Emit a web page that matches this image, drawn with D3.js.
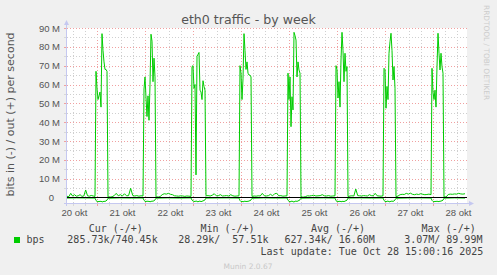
<!DOCTYPE html>
<html>
<head>
<meta charset="utf-8">
<script src="https://cdn.jsdelivr.net/npm/d3@7"></script>
<style>
  body { margin: 0; background: #f0f0f0; }
  svg { display: block; font-family: "DejaVu Sans", sans-serif; }
  .lbl text { fill: #555; font-size: 9.5px; }
  .lbl path, .lbl line { display: none; }
  .mono { font-family: "DejaVu Sans Mono", monospace; font-size: 10px; fill: #444; white-space: pre; }
</style>
</head>
<body>
<svg id="chart"></svg>
<script>
const width = 497;
const height = 275;
const plot = { left: 67, right: 467, top: 28, bottom: 203 };

// time window of the graph (30 min per pixel)
const timeStart  = "2025-10-20T08:30";
const timeEnd    = "2025-10-28T16:30";
const lastSample = "2025-10-28T15:30";
const yDomain = [-2.92, 90]; // Mbit/s

// nightly bursts, one sample per 30 min, starting 23:00 (Mbit/s)
const burstStart = [
  "2025-10-20T23:00", "2025-10-21T23:00", "2025-10-22T23:00", "2025-10-23T23:00",
  "2025-10-24T23:00", "2025-10-25T23:00", "2025-10-26T23:00", "2025-10-27T23:00"
];
const burstOut = [
  [67, 58, 52, 54, 56, 48, 87, 78, 72, 68, 68, 67],
  [57.6, 64, 53, 43, 54, 41, 60, 86.7, 83, 61.5, 74, 64],
  [69.5, 70, 58, 60, 12, 75, 76, 77, 57, 56, 52, 62, 59, 57],
  [70, 66, 52, 63, 87, 78, 68, 72, 66, 65, 65, 64],
  [66, 52, 64, 37.6, 53.5, 46.5, 87.7, 86, 83.6, 64, 72, 67.7, 66],
  [70, 68, 52.8, 61.5, 48, 73, 87.7, 78, 61.5, 76.6, 67, 69.5],
  [68.6, 68, 47.4, 59, 52, 76.6, 82.7, 87.2, 78, 62.4, 69.5, 58],
  [68.6, 56, 52, 57, 48, 69.5, 87.2, 76.6, 67.7, 76.6, 69.5, 66]
];
const burstIn = [
  [-1.6, -2.1, -2.3, -2.0, -2.2, -1.9, -2.4, -2.2, -2.0, -2.1, -1.8, -1.4],
  [-1.5, -2.0, -2.2, -1.9, -2.1, -2.0, -2.3, -2.1, -1.9, -2.0, -1.7, -1.3],
  [-1.4, -1.9, -2.0, -2.2, -1.8, -2.1, -2.3, -2.0, -1.9, -2.2, -2.0, -1.8, -1.6, -1.2],
  [-1.6, -2.2, -2.0, -2.3, -2.1, -1.9, -2.2, -2.0, -2.1, -1.8, -1.7, -1.3],
  [-1.5, -2.0, -2.3, -2.1, -1.9, -2.2, -2.4, -2.0, -1.9, -2.1, -1.8, -1.6, -1.2],
  [-1.7, -2.1, -2.0, -2.2, -1.9, -2.3, -2.1, -2.0, -2.2, -1.9, -1.7, -1.4],
  [-1.6, -2.0, -2.2, -2.1, -1.8, -2.3, -2.2, -2.0, -1.9, -2.1, -1.8, -1.3],
  [-1.5, -2.1, -2.3, -2.0, -2.2, -1.9, -2.2, -2.1, -2.0, -1.9, -1.7, -1.4]
];
// quiet periods between bursts, spread evenly over each gap (Mbit/s)
const quietOut = [
  [0.6, 0.5, 2.2, 0.8, 1.5, 0.7, 0.9, 1.5, 0.6, 0.8, 4.0, 0.9, 0.7, 1.1, 0.8, 0.6],
  [0.3, 0.2, 0.4, 1.0, 2.2, 0.9, 1.5, 0.8, 2.0, 0.9, 1.0, 4.9, 1.1, 0.8, 1.0, 0.7, 0.9, 0.8],
  [0.3, 0.2, 0.5, 1.5, 2.0, 1.8, 2.2, 1.7, 1.5, 0.9, 0.8, 0.7, 0.9, 0.8, 0.6, 0.8, 0.7, 0.6],
  [0.9, 1.0, 0.8, 1.2, 2.0, 0.9, 1.0, 1.5, 0.8, 0.9, 1.0, 0.8, 1.5, 0.9, 0.7, 0.8, 0.9],
  [0.6, 0.8, 0.7, 0.9, 0.8, 2.2, 0.9, 0.8, 1.0, 1.7, 0.9, 2.0, 2.2, 0.9, 1.0, 0.7, 0.8, 0.9],
  [0.3, 0.2, 0.4, 0.9, 0.8, 1.0, 1.2, 0.8, 0.9, 1.0, 1.5, 0.9, 0.8, 1.0, 0.7, 0.8, 0.9],
  [0.5, 0.8, 0.9, 0.8, 4.5, 1.0, 0.9, 0.8, 1.0, 0.9, 0.8, 1.5, 1.0, 0.9, 2.2, 0.9, 0.8, 0.7, 0.9],
  [0.4, 0.8, 1.5, 1.7, 1.6, 2.2, 1.8, 2.3, 1.7, 1.5, 1.8, 1.6, 2.0, 1.7, 1.5, 1.6, 1.8, 1.5],
  [0.3, 0.2, 1.6, 1.8, 1.7, 1.9, 1.8, 2.2, 1.9, 1.8, 2.0]
];
const quietIn = [
  [-0.3, -0.2, -0.25, -0.3],
  [-0.4, -0.2, -0.3, -0.25],
  [-0.35, -0.2, -0.3, -0.2],
  [-0.3, -0.25, -0.2, -0.3],
  [-0.4, -0.2, -0.3, -0.25],
  [-0.35, -0.25, -0.2, -0.3],
  [-0.3, -0.2, -0.3, -0.25],
  [-0.4, -0.25, -0.2, -0.3],
  [-0.35, -0.2, -0.3]
];

const xTickDays   = ["2025-10-20T12:00", "2025-10-21T12:00", "2025-10-22T12:00", "2025-10-23T12:00",
                     "2025-10-24T12:00", "2025-10-25T12:00", "2025-10-26T12:00", "2025-10-27T12:00", "2025-10-28T12:00"];
const xTickLabels = ["20 okt", "21 okt", "22 okt", "23 okt", "24 okt", "25 okt", "26 okt", "27 okt", "28 okt"];
const yTicks      = [0, 10, 20, 30, 40, 50, 60, 70, 80, 90];
const yTickLabels = ["0", "10 M", "20 M", "30 M", "40 M", "50 M", "60 M", "70 M", "80 M", "90 M"];

const legendHeaders = ["Cur (-/+)", "Min (-/+)", "Avg (-/+)", "Max (-/+)"];
const legendValues  = ["285.73k/740.45k", "28.29k/  57.51k", "627.34k/ 16.60M", "3.07M/ 89.99M"];
const lastUpdate = "Last update: Tue Oct 28 15:00:16 2025";

const lineColour = "#00cc00";
const axisColour = "#c5c8f0";

const parse = d3.timeParse("%Y-%m-%dT%H:%M");
const halfHour = 30 * 60 * 1000;

const svg = d3.select("#chart")
   .attr("width", width)
   .attr("height", height);

// plot background
svg.append("rect")
   .attr("x", plot.left).attr("y", plot.top)
   .attr("width", plot.right - plot.left).attr("height", plot.bottom - plot.top)
   .attr("fill", "#fff");

const x = d3.scaleTime()
   .domain([parse(timeStart), parse(timeEnd)])
   .range([plot.left, plot.right]);

const y = d3.scaleLinear()
   .domain(yDomain)
   .range([plot.bottom, plot.top]);

// grid
const grid = svg.append("g").attr("shape-rendering", "crispEdges");

const sixHours = d3.timeHour.every(6).range(x.domain()[0], x.domain()[1]);
grid.selectAll("line.v")
   .data(sixHours)
   .enter()
   .append("line")
   .attr("x1", d => Math.round(x(d)) - 0.5)
   .attr("x2", d => Math.round(x(d)) - 0.5)
   .attr("y1", plot.top)
   .attr("y2", plot.bottom)
   .attr("stroke", d => d.getHours() === 0 ? "#f0a0a0" : "#cfcfcf")
   .attr("stroke-dasharray", "1,2");

const yGrid = d3.range(5, 91, 5);
grid.selectAll("line.h")
   .data(yGrid)
   .enter()
   .append("line")
   .attr("x1", plot.left)
   .attr("x2", plot.right)
   .attr("y1", d => Math.round(y(d)) + 0.5)
   .attr("y2", d => Math.round(y(d)) + 0.5)
   .attr("stroke", d => d % 10 === 0 ? "#f0a0a0" : "#cfcfcf")
   .attr("stroke-dasharray", "1,2");

// small ticks on the axes
grid.selectAll("line.ty")
   .data(yGrid)
   .enter()
   .append("line")
   .attr("x1", plot.left - 3)
   .attr("x2", plot.left)
   .attr("y1", d => Math.round(y(d)) + 0.5)
   .attr("y2", d => Math.round(y(d)) + 0.5)
   .attr("stroke", d => d % 10 === 0 ? "#f0a0a0" : "#d8d8d8");

grid.selectAll("line.tx")
   .data(sixHours)
   .enter()
   .append("line")
   .attr("x1", d => Math.round(x(d)) - 0.5)
   .attr("x2", d => Math.round(x(d)) - 0.5)
   .attr("y1", plot.bottom)
   .attr("y2", plot.bottom + 3)
   .attr("stroke", d => d.getHours() === 0 ? "#f0a0a0" : "#d8d8d8");

// build a series from quiet gaps and nightly bursts
function buildSeries(bursts, quiet) {
   const pts = [];
   const starts = burstStart.map(parse);
   let gapFrom = parse(timeStart);
   quiet.forEach((vals, g) => {
      const last = g === quiet.length - 1;
      const gapTo = last ? parse(lastSample) : new Date(+starts[g] - halfHour);
      const step = (gapTo - gapFrom) / (vals.length - 1);
      vals.forEach((v, i) => pts.push({ t: new Date(+gapFrom + i * step), v: v }));
      if (!last) {
         bursts[g].forEach((v, i) => pts.push({ t: new Date(+starts[g] + i * halfHour), v: v }));
         gapFrom = new Date(+starts[g] + bursts[g].length * halfHour);
      }
   });
   return pts;
}

const seriesIn  = buildSeries(burstIn, quietIn);
const seriesOut = buildSeries(burstOut, quietOut);

const line = d3.line()
   .x(d => x(d.t))
   .y(d => y(d.v));

[seriesIn, seriesOut].forEach(s => {
   svg.append("path")
      .datum(s)
      .attr("fill", "none")
      .attr("stroke", lineColour)
      .attr("stroke-width", 1)
      .attr("d", line);
});

// zero line
svg.append("line")
   .attr("x1", plot.left).attr("x2", plot.right)
   .attr("y1", y(0)).attr("y2", y(0))
   .attr("stroke", "#000")
   .attr("stroke-width", 1.2);

// axes lines + arrows
svg.append("line")
   .attr("x1", plot.left - 3).attr("x2", plot.right + 2)
   .attr("y1", plot.bottom + 0.5).attr("y2", plot.bottom + 0.5)
   .attr("stroke", axisColour);
svg.append("path")
   .attr("d", `M${plot.right + 2},${plot.bottom - 2} L${plot.right + 7},${plot.bottom + 0.5} L${plot.right + 2},${plot.bottom + 3} Z`)
   .attr("fill", axisColour);
svg.append("line")
   .attr("x1", plot.left - 0.5).attr("x2", plot.left - 0.5)
   .attr("y1", plot.bottom + 3).attr("y2", plot.top - 3)
   .attr("stroke", axisColour);
svg.append("path")
   .attr("d", `M${plot.left - 3},${plot.top - 3} L${plot.left - 0.5},${plot.top - 8} L${plot.left + 2},${plot.top - 3} Z`)
   .attr("fill", axisColour);

// tick labels
svg.append("g")
   .attr("class", "lbl")
   .attr("transform", `translate(0,${plot.bottom})`)
   .call(d3.axisBottom(x)
      .tickValues(xTickDays.map(parse))
      .tickFormat((d, i) => xTickLabels[i])
      .tickSize(0)
      .tickPadding(6));

svg.append("g")
   .attr("class", "lbl")
   .attr("transform", `translate(${plot.left},0)`)
   .call(d3.axisLeft(y)
      .tickValues(yTicks)
      .tickFormat((d, i) => yTickLabels[i])
      .tickSize(0)
      .tickPadding(7))
   .selectAll("text")
   .attr("x", d => d === 0 ? -13 : -7);

// title and axis label
svg.append("text")
   .attr("x", 248.5).attr("y", 23.5)
   .attr("text-anchor", "middle")
   .attr("fill", "#555")
   .style("font-size", "12.6px")
   .text("eth0 traffic - by week");

svg.append("text")
   .attr("transform", "translate(13.5,114.5) rotate(-90)")
   .attr("text-anchor", "middle")
   .attr("fill", "#555")
   .style("font-size", "11px")
   .text("bits in (-) / out (+) per second");

svg.append("text")
   .attr("transform", "translate(484,5) rotate(90)")
   .attr("fill", "#cccccc")
   .style("font-size", "7.4px")
   .text("RRDTOOL / TOBI OETIKER");

// legend
const headerX = [115.8, 227.5, 338, 448.7];
const valueX  = [112.5, 223.3, 329.7, 443.3];

svg.selectAll("text.head")
   .data(legendHeaders)
   .enter()
   .append("text")
   .attr("class", "mono")
   .attr("x", (d, i) => headerX[i])
   .attr("y", 231.5)
   .attr("text-anchor", "middle")
   .text(d => d);

svg.append("rect")
   .attr("x", 14).attr("y", 237)
   .attr("width", 6).attr("height", 6)
   .attr("fill", lineColour);

svg.append("text")
   .attr("class", "mono")
   .attr("x", 26.5).attr("y", 243)
   .text("bps");

svg.selectAll("text.val")
   .data(legendValues)
   .enter()
   .append("text")
   .attr("class", "mono")
   .attr("x", (d, i) => valueX[i])
   .attr("y", 243)
   .attr("text-anchor", "middle")
   .text(d => d);

svg.append("text")
   .attr("class", "mono")
   .attr("x", 483.3).attr("y", 254.5)
   .attr("text-anchor", "end")
   .text(lastUpdate);

svg.append("text")
   .attr("x", 248).attr("y", 269)
   .attr("text-anchor", "middle")
   .attr("fill", "#c8c8c8")
   .style("font-size", "7.5px")
   .text("Munin 2.0.67");
</script>
</body>
</html>
